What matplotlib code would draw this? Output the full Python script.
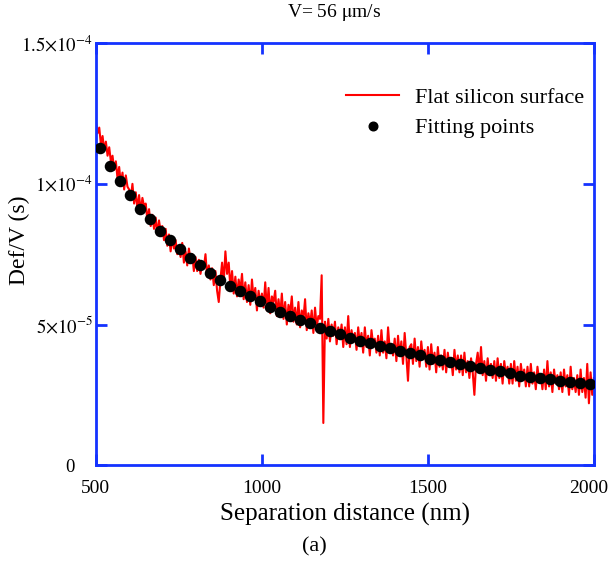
import numpy as np
import matplotlib
matplotlib.use("Agg")
import matplotlib.pyplot as plt
import matplotlib.transforms as mtransforms

plt.rcParams['font.family'] = ['Liberation Serif', 'DejaVu Serif']
plt.rcParams['mathtext.fontset'] = 'stix'

# measured trace, Def/V in units of 1e-5 s, every 5 nm from 500 to 2000 nm
trace_x = np.arange(500, 2001, 5)
trace_y = [
    12.2, 11.8, 12.0, 11.4, 11.7, 11.2, 11.5, 11.0, 11.3, 10.8,
    11.0, 10.5, 10.8, 10.2, 10.6, 10.0, 10.4, 9.8, 10.3, 9.9,
    9.8, 9.5, 10.0, 9.3, 9.7, 9.1, 9.6, 9.0, 9.5, 9.2,
    9.3, 8.7, 9.1, 8.5, 8.9, 8.4, 8.8, 8.2, 8.7, 8.3,
    8.5, 8.0, 8.4, 7.8, 8.2, 7.6, 8.1, 7.7, 8.0, 7.5,
    7.8, 7.4, 7.9, 7.2, 7.6, 7.1, 7.7, 7.3, 7.5, 6.9,
    7.4, 6.9, 7.3, 6.8, 7.2, 7.0, 7.5, 6.7, 7.1, 6.6,
    7.0, 6.4, 6.9, 6.2, 5.8, 6.6, 7.2, 6.5, 7.6, 6.8,
    7.2, 6.3, 6.9, 6.1, 6.7, 6.0, 6.6, 6.2, 6.8, 5.9,
    6.5, 5.8, 6.4, 5.7, 6.6, 5.9, 6.3, 5.5, 6.2, 5.7,
    6.1, 5.6, 6.5, 5.5, 6.3, 5.4, 6.0, 5.8, 6.2, 5.3,
    5.9, 5.3, 6.1, 5.2, 5.8, 5.0, 5.7, 5.4, 6.0, 5.1,
    5.6, 5.0, 5.8, 4.9, 5.5, 5.2, 5.9, 4.8, 5.4, 5.0,
    5.5, 4.7, 5.6, 4.9, 5.3, 5.2, 6.75, 1.5, 5.1, 4.5,
    5.2, 4.4, 5.0, 4.6, 5.1, 4.3, 4.9, 4.5, 5.0, 4.2,
    4.9, 4.3, 5.3, 4.2, 4.8, 4.4, 4.7, 4.1, 4.9, 4.3,
    4.7, 4.0, 4.9, 4.2, 4.6, 3.9, 4.8, 4.3, 4.5, 4.0,
    4.6, 3.9, 4.8, 4.0, 4.4, 3.8, 4.9, 4.1, 4.3, 3.9,
    4.5, 3.7, 4.6, 3.9, 4.4, 3.6, 4.7, 3.9, 3.0, 4.2,
    4.3, 3.6, 4.5, 3.7, 4.2, 3.5, 4.4, 3.8, 4.1, 3.5,
    4.2, 3.4, 4.3, 3.6, 4.0, 3.3, 4.2, 3.5, 3.9, 3.4,
    4.1, 3.3, 4.0, 3.5, 3.8, 3.2, 4.1, 3.4, 3.9, 3.3,
    3.9, 3.2, 4.0, 3.3, 3.7, 3.1, 3.8, 3.3, 2.5, 3.6,
    4.0, 3.3, 4.2, 3.2, 3.7, 3.0, 3.8, 3.2, 3.6, 3.1,
    3.7, 3.0, 3.8, 3.1, 3.6, 2.9, 3.7, 3.2, 3.5, 2.9,
    3.6, 2.9, 3.7, 3.0, 3.5, 2.8, 3.6, 3.1, 3.4, 2.8,
    3.5, 2.8, 3.6, 2.9, 3.3, 2.7, 3.5, 3.0, 3.2, 2.7,
    3.4, 2.7, 3.7, 2.8, 3.3, 2.6, 3.4, 2.9, 3.2, 2.7,
    3.3, 2.6, 3.4, 2.8, 3.2, 2.5, 3.5, 2.7, 3.1, 2.6,
    3.2, 2.5, 3.4, 2.6, 3.1, 2.4, 3.6, 2.2, 3.3, 2.5,
    3.1,
]

# fitting points, units of 1e-5 s
fit_x = np.linspace(512, 1988, 50)
fit_y = [
    11.28, 10.63, 10.09, 9.62, 9.12, 8.75, 8.34, 8.02, 7.67, 7.38,
    7.11, 6.84, 6.59, 6.37, 6.18, 6.00, 5.83, 5.61, 5.45, 5.30,
    5.17, 5.04, 4.89, 4.76, 4.66, 4.52, 4.43, 4.36, 4.24, 4.16,
    4.06, 3.99, 3.90, 3.79, 3.73, 3.67, 3.61, 3.52, 3.46, 3.38,
    3.34, 3.29, 3.17, 3.14, 3.09, 3.05, 3.01, 2.95, 2.93, 2.88,
]

yticks = [0, 5e-5, 1e-4, 1.5e-4]
ytick_labels = ['0', r'$5{\times}10^{-5}$', r'$1{\times}10^{-4}$', r'$1.5{\times}10^{-4}$']
xticks = [500, 1000, 1500, 2000]

frame_blue = '#1432ff'

fig = plt.figure(figsize=(6.11, 5.68), dpi=100)
ax = fig.add_axes([0.157, 0.181, 0.815, 0.743])

ax.plot(trace_x, np.array(trace_y) * 1e-5, color='#ff0000', lw=1.5,
        label='Flat silicon surface', zorder=2)
ax.plot(fit_x, np.array(fit_y) * 1e-5, 'o', color='black', ms=7.3, mec='black',
        label='Fitting points', zorder=3)

ax.set_xlim(500, 2000)
ax.set_ylim(0, 1.5e-4)
ax.set_xticks(xticks)
ax.set_yticks(yticks)
ax.set_yticklabels(ytick_labels)

for s in ax.spines.values():
    s.set_color(frame_blue)
    s.set_linewidth(2)
ax.tick_params(direction='in', length=8, width=2, color=frame_blue,
               top=True, right=True, labelsize=14)
ax.tick_params(axis='x', pad=11)
ax.tick_params(axis='y', labelsize=13.5, pad=2)

# "0" sits further left, "2000" is pulled in from the edge
yl = ax.get_yticklabels()
yl[0].set_transform(yl[0].get_transform() +
                    mtransforms.ScaledTranslation(-0.19, 0, fig.dpi_scale_trans))
xl = ax.get_xticklabels()
xl[-1].set_transform(xl[-1].get_transform() +
                     mtransforms.ScaledTranslation(-0.05, 0, fig.dpi_scale_trans))

ax.set_xlabel('Separation distance (nm)', fontsize=18)
ax.xaxis.set_label_coords(0.5, -0.09)
ax.set_ylabel('Def/V (s)', fontsize=17)
ax.yaxis.set_label_coords(-0.133, 0.533)
fig.text(0.547, 0.978, r'V= 56 $\mathrm{\mu}$m/s', ha='center', va='center', fontsize=14)

ax.legend(loc='upper right', bbox_to_anchor=(1.02, 0.943), frameon=False,
          fontsize=16, handlelength=2.4, handletextpad=0.7, labelspacing=0.45,
          markerscale=0.85)

fig.text(0.515, 0.037, '(a)', ha='center', va='center', fontsize=16)

fig.savefig('out.png', dpi=100)
